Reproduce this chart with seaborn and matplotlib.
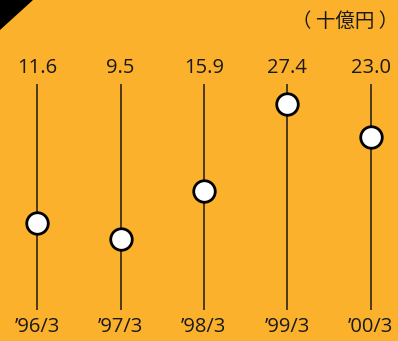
import matplotlib
matplotlib.use("Agg")
import matplotlib.pyplot as plt
import seaborn as sns
import pandas as pd
from matplotlib.patches import Polygon

periods = ["\u201996/3", "\u201997/3", "\u201998/3", "\u201999/3", "\u201900/3"]
values = [11.6, 9.5, 15.9, 27.4, 23.0]
value_labels = ["11.6", "9.5", "15.9", "27.4", "23.0"]
unit_label = "（ 十億円 ）"

bg = "#FBB12B"
sns.set_theme(style="white")
plt.rcParams['font.family'] = ['Open Sans', 'Noto Sans CJK JP', 'DejaVu Sans']

df = pd.DataFrame({"idx": range(len(periods)), "value": values})

fig = plt.figure(figsize=(3.98, 3.41), dpi=100)
fig.patch.set_facecolor(bg)
ax = fig.add_axes([0, 0, 1, 1])
ax.set_facecolor(bg)

ax.vlines(df["idx"], 0, 30, color="#1a1a1a", linewidth=1.1, zorder=1)
sns.scatterplot(data=df, x="idx", y="value", ax=ax, s=240, color="white",
                edgecolor="black", linewidth=2, zorder=3, legend=False)

for i, lab in enumerate(value_labels):
    ax.text(i, 32.2, lab, ha="center", va="center", fontsize=14.5, color="#1a1a1a")
for i, lab in enumerate(periods):
    ax.text(i, -2.2, lab, ha="center", va="center", fontsize=14.5, color="#1a1a1a")

fig.text(0.867, 0.937, unit_label, ha="center", va="center", fontsize=14,
         color="#1a1a1a", family=['Noto Sans CJK JP', 'DejaVu Sans'])

ax.set_xlim(-0.448, 4.33)
ax.set_ylim(-4.06, 41.2)
ax.axis("off")

tri = Polygon([[0, 1], [33 / 398, 1], [0, 1 - 30 / 341]], closed=True,
              transform=fig.transFigure, facecolor="black", edgecolor="none")
fig.patches.append(tri)

fig.savefig("out.png", dpi=100, facecolor=bg)
